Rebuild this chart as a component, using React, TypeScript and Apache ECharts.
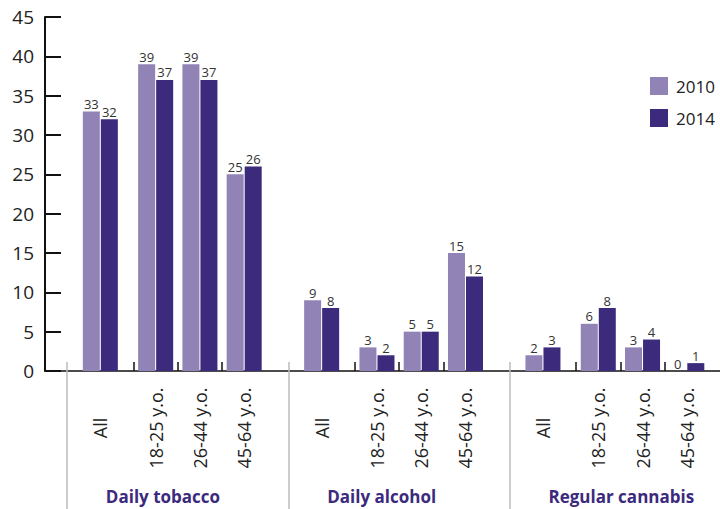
import React, { useEffect, useRef } from 'react';
import * as echarts from 'echarts';

// Survey groups and age bands
const groups = ['Daily tobacco', 'Daily alcohol', 'Regular cannabis'];
const ageBands = ['All', '18-25 y.o.', '26-44 y.o.', '45-64 y.o.'];
const years = ['2010', '2014'];

// Prevalence (%) per group, in ageBands order
const tobacco2010 = [33, 39, 39, 25];
const tobacco2014 = [32, 37, 37, 26];
const alcohol2010 = [9, 3, 5, 15];
const alcohol2014 = [8, 2, 5, 12];
const cannabis2010 = [2, 6, 3, 0];
const cannabis2014 = [3, 8, 4, 1];

const yTicks = [0, 5, 10, 15, 20, 25, 30, 35, 40, 45];

// Fine-grained category slots so the groups and bands can be spaced unevenly
const SLOT = 5.636;
const SLOTS_PER_GROUP = 40;
const FIRST_SLOT = 10;
const BAND_OFFSETS = [0, 10, 18, 26];
const TICK_OFFSETS = [6, 14, 22];
const SEPARATOR_OFFSET = -6;
const GROUP_LABEL_OFFSET = 1;
const SLOT_COUNT = 123;

const COLOR_2010 = '#9283b6';
const COLOR_2014 = '#3c2a7c';
const FONT = '"Open Sans", "Noto Sans", sans-serif';

export default function App() {
  const ref = useRef<HTMLDivElement>(null);

  useEffect(() => {
    if (!ref.current) return;
    const chart = echarts.init(ref.current, undefined, { renderer: 'svg' });

    const values2010 = [tobacco2010, alcohol2010, cannabis2010];
    const values2014 = [tobacco2014, alcohol2014, cannabis2014];

    const bandCats: string[] = new Array(SLOT_COUNT).fill('');
    const groupCats: string[] = new Array(SLOT_COUNT).fill('');
    const s2010: (number | string)[] = new Array(SLOT_COUNT).fill('-');
    const s2014: (number | string)[] = new Array(SLOT_COUNT).fill('-');
    const tickSlots = new Set<number>();
    const sepSlots = new Set<number>();

    groups.forEach((g, gi) => {
      const base = FIRST_SLOT + gi * SLOTS_PER_GROUP;
      groupCats[base + GROUP_LABEL_OFFSET] = g;
      sepSlots.add(base + SEPARATOR_OFFSET);
      TICK_OFFSETS.forEach((t) => tickSlots.add(base + t));
      ageBands.forEach((a, ai) => {
        const idx = base + BAND_OFFSETS[ai];
        bandCats[idx] = a;
        s2010[idx] = values2010[gi][ai];
        s2014[idx] = values2014[gi][ai];
      });
    });

    const valueLabel = {
      show: true,
      position: 'top' as const,
      distance: 1,
      fontSize: 13,
      color: '#333',
      fontFamily: FONT,
    };

    chart.setOption({
      animation: false,
      textStyle: { fontFamily: FONT },
      grid: { left: 45, top: 17, height: 354, width: SLOT * (SLOT_COUNT - 1), containLabel: false },
      legend: {
        data: years,
        orient: 'vertical',
        left: 645,
        top: 72,
        itemWidth: 18,
        itemHeight: 18,
        itemGap: 14,
        icon: 'rect',
        textStyle: { fontSize: 17, color: '#222', fontFamily: FONT, padding: [0, 0, 0, 3] },
      },
      xAxis: [
        {
          type: 'category',
          data: bandCats,
          boundaryGap: false,
          position: 'bottom',
          axisLine: { show: true, lineStyle: { color: '#111', width: 1.5 } },
          axisTick: {
            show: true,
            inside: true,
            length: 9,
            interval: (i: number) => tickSlots.has(i),
            lineStyle: { color: '#111', width: 1.5 },
          },
          axisLabel: {
            interval: (_i: number, v: string) => v !== '',
            rotate: 90,
            align: 'center',
            verticalAlign: 'middle',
            margin: 57,
            fontSize: 18,
            color: '#222',
            fontFamily: FONT,
          },
          splitLine: { show: false },
        },
        {
          type: 'category',
          data: groupCats,
          boundaryGap: false,
          position: 'bottom',
          offset: -9,
          axisLine: { show: false },
          axisTick: {
            show: true,
            length: 150,
            interval: (i: number) => sepSlots.has(i),
            lineStyle: { color: '#bbbbbb', width: 1.5 },
          },
          axisLabel: {
            interval: (_i: number, v: string) => v !== '',
            align: 'left',
            verticalAlign: 'middle',
            margin: 134,
            fontSize: 17,
            fontWeight: 'bold',
            color: COLOR_2014,
            fontFamily: FONT,
          },
          splitLine: { show: false },
        },
      ],
      yAxis: {
        type: 'value',
        min: yTicks[0],
        max: yTicks[yTicks.length - 1],
        interval: yTicks[1] - yTicks[0],
        axisLine: { show: true, lineStyle: { color: '#111', width: 2 } },
        axisTick: { show: true, inside: true, length: 16, lineStyle: { color: '#111', width: 2 } },
        axisLabel: { fontSize: 19, color: '#222', margin: 11, fontFamily: FONT },
        splitLine: { show: false },
      },
      series: [
        {
          name: years[0],
          type: 'bar',
          xAxisIndex: 0,
          data: s2010,
          barWidth: 17,
          barGap: '6%',
          itemStyle: { color: COLOR_2010 },
          label: valueLabel,
        },
        {
          name: years[1],
          type: 'bar',
          xAxisIndex: 0,
          data: s2014,
          barWidth: 17,
          barGap: '6%',
          itemStyle: { color: COLOR_2014 },
          label: valueLabel,
        },
      ],
    });

    return () => chart.dispose();
  }, []);

  return (
    <div
      ref={ref}
      style={{ position: 'fixed', left: 0, top: 0, width: 720, height: 509, background: '#fff' }}
    />
  );
}
